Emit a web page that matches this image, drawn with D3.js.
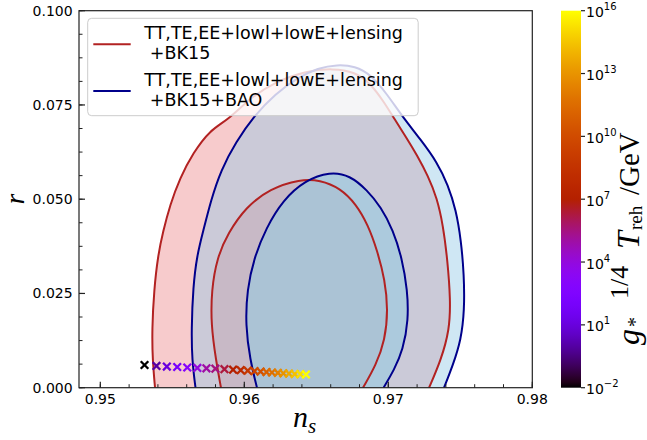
<!DOCTYPE html>
<html><head><meta charset="utf-8">
<script src="https://cdn.jsdelivr.net/npm/d3@7/dist/d3.min.js"></script>
<style>
body{margin:0;background:#fff;}
svg{display:block;}
</style></head><body>
<svg id="chart" width="647" height="440"></svg>
<script>
// ---- axis ticks ----
const nsTicks = [0.95, 0.96, 0.97, 0.98];
const rTicks = [0.000, 0.025, 0.050, 0.075, 0.100];
const cbarExponents = [-2, 1, 4, 7, 10, 13, 16];

// ---- 95% and 68% contours, [n_s, r], traced from r = 0 round to r = 0 ----
const redOuter = [
  [0.95380,0],[0.95363,0.00735],[0.95359,0.01531],[0.95373,0.02592],[0.95401,0.03520],
  [0.95435,0.04130],[0.95484,0.04846],[0.95553,0.05562],[0.95644,0.06225],[0.95762,0.06836],
  [0.95887,0.07101],[0.96040,0.07684],[0.96213,0.08109],[0.96422,0.08400],[0.96616,0.08470],
  [0.96769,0.08380],[0.96880,0.08056],[0.96970,0.07578],[0.97047,0.07101],[0.97123,0.06650],
  [0.97199,0.06172],[0.97276,0.05615],[0.97338,0.05032],[0.97380,0.04316],[0.97411,0.03387],
  [0.97432,0.02326],[0.97425,0.01531],[0.97366,0.00735],[0.97283,0]
];
const redInner = [
  [0.95838,0],[0.95803,0.00735],[0.95769,0.01663],[0.95772,0.02592],[0.95810,0.03440],
  [0.95887,0.04103],[0.96012,0.04793],[0.96178,0.05280],[0.96387,0.05530],[0.96526,0.05510],
  [0.96665,0.05297],[0.96776,0.04873],[0.96859,0.04316],[0.96922,0.03653],[0.96977,0.02857],
  [0.96998,0.02061],[0.96977,0.01265],[0.96915,0.00602],[0.96824,0]
];
const blueOuter = [
  [0.95661,0],[0.95637,0.00735],[0.95633,0.01531],[0.95644,0.02671],[0.95672,0.03520],
  [0.95713,0.04130],[0.95769,0.04979],[0.95838,0.05775],[0.95942,0.06517],[0.96067,0.07207],
  [0.96213,0.07790],[0.96373,0.08230],[0.96512,0.08480],[0.96644,0.08570],[0.96769,0.08530],
  [0.96880,0.08300],[0.96991,0.07790],[0.97095,0.07207],[0.97227,0.06570],[0.97338,0.05987],
  [0.97415,0.05377],[0.97470,0.04714],[0.97505,0.03918],[0.97526,0.02989],[0.97529,0.02061],
  [0.97505,0.01265],[0.97449,0.00602],[0.97387,0]
];
const blueInner = [
  [0.96088,0],[0.96040,0.00735],[0.96008,0.01663],[0.96019,0.02592],[0.96067,0.03440],
  [0.96151,0.04236],[0.96269,0.04979],[0.96422,0.05500],[0.96595,0.05730],[0.96734,0.05630],
  [0.96852,0.05244],[0.96949,0.04793],[0.97033,0.04183],[0.97095,0.03440],[0.97133,0.02592],
  [0.97140,0.01796],[0.97102,0.01000],[0.97040,0.00469],[0.96967,0]
];

// ---- model predictions, coloured by log10 of the reheating temperature ----
const modelNs = [0.95307,0.95390,0.95462,0.95534,0.95604,0.95674,0.95737,0.95799,0.95862,0.95922,
  0.95975,0.96024,0.96071,0.96113,0.96154,0.96192,0.96233,0.96271,0.96310,0.96350,0.96389,0.96428];
const modelR = [0.00602,0.00576,0.00562,0.00549,0.00536,0.00523,0.00515,0.00504,0.00491,0.00477,
  0.00464,0.00451,0.00438,0.00427,0.00416,0.00403,0.00393,0.00382,0.00374,0.00363,0.00358,0.00350];
const modelLogT = [-2,0,1,2,3,4,5,5.5,6.3,7,7.8,8.7,9.5,10.2,11,11.7,12.3,13,13.7,14.4,15.2,16];

// ---- legend ----
const legendLabels = [
  ["TT,TE,EE+lowl+lowE+lensing", " +BK15"],
  ["TT,TE,EE+lowl+lowE+lensing", " +BK15+BAO"]
];

const RED = "#b22222", BLUE = "#00008b";

// gnuplot colour map
function gnuplot(t){
  t = Math.max(0, Math.min(1, t));
  const r = Math.sqrt(t), g = t*t*t, b = Math.max(0, Math.sin(2*Math.PI*t));
  return d3.rgb(Math.round(255*r), Math.round(255*g), Math.round(255*Math.min(1,b))).formatHex();
}

const svg = d3.select("#chart");
const defs = svg.append("defs");
const L = 79, R = 532.3, T = 10.7, B = 387.7;

const x = d3.scaleLinear().domain([0.94852, 0.98]).range([L, R]);
const y = d3.scaleLinear().domain([0, 0.1]).range([B, T]);

defs.append("clipPath").attr("id", "plotClip")
  .append("rect").attr("x", L).attr("y", T).attr("width", R - L).attr("height", B - T);

const line = d3.line().x(d => x(d[0])).y(d => y(d[1])).curve(d3.curveBasis);

const plot = svg.append("g").attr("clip-path", "url(#plotClip)");

// filled regions
plot.append("path").attr("d", line(redOuter) + "Z").attr("fill", "#f7cbcc");
plot.append("path").attr("d", line(redInner) + "Z").attr("fill", "#f2abab");
plot.append("path").attr("d", line(blueOuter) + "Z").attr("fill", "rgb(149,202,231)").attr("fill-opacity", 0.45);
plot.append("path").attr("d", line(blueInner) + "Z").attr("fill", "rgb(150,202,224)").attr("fill-opacity", 0.58);

// contour lines
[redOuter, redInner].forEach(p => plot.append("path").attr("d", line(p))
  .attr("fill", "none").attr("stroke", RED).attr("stroke-width", 2));
[blueOuter, blueInner].forEach(p => plot.append("path").attr("d", line(p))
  .attr("fill", "none").attr("stroke", BLUE).attr("stroke-width", 2));

// colour scale for the reheating temperature
const cnorm = d3.scaleLinear().domain([-2, 16]).range([0, 1]);

const models = modelNs.map((v, i) => ({ns: v, r: modelR[i], lt: modelLogT[i]}));
const s = 3.8;
plot.append("g").selectAll("path").data(models).join("path")
  .attr("d", d => {
    const cx = x(d.ns), cy = y(d.r);
    return `M${cx - s},${cy - s}L${cx + s},${cy + s}M${cx - s},${cy + s}L${cx + s},${cy - s}`;
  })
  .attr("stroke", d => gnuplot(cnorm(d.lt))).attr("stroke-width", 2.3).attr("fill", "none");

// legend
const lg = svg.append("g");
lg.append("rect").attr("x", 87.7).attr("y", 18.3).attr("width", 330.5).attr("height", 97.4)
  .attr("rx", 4).attr("fill", "#fff").attr("fill-opacity", 0.8)
  .attr("stroke", "#cccccc").attr("stroke-width", 1);
const legendRows = [{c: RED, y0: 39.3}, {c: BLUE, y0: 86}];
legendRows.forEach((row, i) => {
  lg.append("line").attr("x1", 93.3).attr("x2", 130.7)
    .attr("y1", row.y0 + 5).attr("y2", row.y0 + 5)
    .attr("stroke", row.c).attr("stroke-width", 2);
  legendLabels[i].forEach((txt, j) => {
    lg.append("text").attr("x", 144.3).attr("y", row.y0 + j * 20)
      .attr("xml:space", "preserve").style("white-space", "pre")
      .attr("font-family", "DejaVu Sans").attr("font-size", 17.5).attr("fill", "#000")
      .text(txt);
  });
});

// axes: ticks pointing inward, bottom and left only
const ax = svg.append("g").attr("font-family", "DejaVu Sans").attr("font-size", 14);
const nsMinor = d3.range(0.95, 0.98001, 0.002);
ax.selectAll(".xmin").data(nsMinor).join("line")
  .attr("x1", d => x(d)).attr("x2", d => x(d)).attr("y1", B).attr("y2", B - 3.5)
  .attr("stroke", "#222").attr("stroke-width", 1);
ax.selectAll(".xmaj").data(nsTicks).join("line")
  .attr("x1", d => x(d)).attr("x2", d => x(d)).attr("y1", B).attr("y2", B - 6)
  .attr("stroke", "#222").attr("stroke-width", 1.2);
ax.selectAll(".xlab").data(nsTicks).join("text")
  .attr("x", d => x(d)).attr("y", 403.5).attr("text-anchor", "middle").attr("fill", "#000")
  .text(d => d.toFixed(2));

const rMinor = d3.range(0, 0.1001, 0.00625);
ax.selectAll(".ymin").data(rMinor).join("line")
  .attr("x1", L).attr("x2", L + 3.5).attr("y1", d => y(d)).attr("y2", d => y(d))
  .attr("stroke", "#222").attr("stroke-width", 1);
ax.selectAll(".ymaj").data(rTicks).join("line")
  .attr("x1", L).attr("x2", L + 6).attr("y1", d => y(d)).attr("y2", d => y(d))
  .attr("stroke", "#222").attr("stroke-width", 1.2);
ax.selectAll(".ylab").data(rTicks).join("text")
  .attr("x", 72.7).attr("y", d => y(d) + 5).attr("text-anchor", "end").attr("fill", "#000")
  .text(d => d.toFixed(3));

// frame
svg.append("rect").attr("x", L).attr("y", T).attr("width", R - L).attr("height", B - T)
  .attr("fill", "none").attr("stroke", "#222").attr("stroke-width", 1.2);

// axis labels
svg.append("text").attr("x", 293).attr("y", 427)
  .attr("font-family", "Liberation Serif").attr("font-style", "italic").attr("font-size", 30)
  .call(t => {
    t.append("tspan").text("n");
    t.append("tspan").attr("font-size", 21).attr("dy", 6).text("s");
  });
svg.append("text").attr("transform", "translate(24,199) rotate(-90)").attr("text-anchor", "middle")
  .attr("font-family", "Liberation Serif").attr("font-style", "italic").attr("font-size", 27)
  .text("r");

// colour bar
const CB = {x: 561, w: 20};
const cy = d3.scaleLinear().domain([-2, 16]).range([B, T]);
const grad = defs.append("linearGradient").attr("id", "cbarGrad")
  .attr("x1", 0).attr("y1", 1).attr("x2", 0).attr("y2", 0);
d3.range(0, 1.0001, 1 / 64).forEach(t => {
  grad.append("stop").attr("offset", t).attr("stop-color", gnuplot(t));
});
svg.append("rect").attr("x", CB.x).attr("y", T).attr("width", CB.w).attr("height", B - T)
  .attr("fill", "url(#cbarGrad)");
const cbAx = svg.append("g").attr("font-family", "DejaVu Sans").attr("font-size", 14);
cbAx.selectAll("line").data(cbarExponents).join("line")
  .attr("x1", CB.x + CB.w).attr("x2", CB.x + CB.w + 4)
  .attr("y1", d => cy(d)).attr("y2", d => cy(d)).attr("stroke", "#222").attr("stroke-width", 1.2);
cbAx.selectAll("text").data(cbarExponents).join("text")
  .attr("x", 586).attr("y", d => cy(d) + 6.5).attr("fill", "#000")
  .each(function(d) {
    const t = d3.select(this);
    t.append("tspan").text("10");
    t.append("tspan").attr("font-size", 10).attr("dy", -7).text(d < 0 ? "\u2212" + (-d) : String(d));
  });

// colour bar label: g_*^{1/4} T_reh / GeV, written upward along the bar
const lab = svg.append("g").attr("transform", "translate(639,347) rotate(-90)")
  .attr("font-family", "Liberation Serif").attr("fill", "#000");
const piece = (txt, px, py, size, italic) => lab.append("text")
  .attr("x", px).attr("y", py).attr("font-size", size)
  .attr("font-style", italic ? "italic" : "normal").text(txt);
piece("g", 2, 0, 32, true);
piece("*", 20, 3, 20, false);
piece("1/4", 48, -11, 26, false);
piece("T", 98, 0, 32, true);
piece("reh", 117, 3, 19, false);
piece("/GeV", 152, 0, 29, false);
</script>
</body></html>
